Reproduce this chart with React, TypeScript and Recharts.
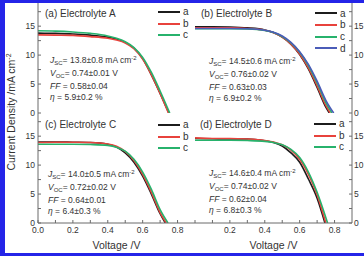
import React from "react";
import { LineChart, Line, XAxis, YAxis } from "recharts";

// J-V curves, [voltage V, current density mA cm-2]
const aBlack = [[0, 13.8], [0.1, 13.75], [0.2, 13.65], [0.3, 13.45], [0.4, 13.1], [0.45, 12.8], [0.5, 12.2], [0.55, 11.2], [0.6, 9.4], [0.65, 6.6], [0.7, 3.4], [0.75, 0]];
const aRed = [[0, 13.5], [0.1, 13.45], [0.2, 13.4], [0.3, 13.2], [0.4, 12.9], [0.45, 12.6], [0.5, 12.1], [0.55, 11.1], [0.6, 9.3], [0.65, 6.6], [0.7, 3.4], [0.748, 0]];
const aGreen = [[0, 14.2], [0.1, 14.15], [0.2, 14.0], [0.3, 13.75], [0.4, 13.3], [0.45, 12.9], [0.5, 12.3], [0.55, 11.3], [0.6, 9.6], [0.65, 7.0], [0.7, 3.8], [0.755, 0]];

const bBlack = [[0, 14.9], [0.1, 14.9], [0.2, 14.85], [0.3, 14.7], [0.4, 14.35], [0.45, 13.9], [0.5, 13.1], [0.55, 11.9], [0.6, 10.1], [0.65, 7.6], [0.7, 4.4], [0.75, 1.0], [0.77, 0]];
const bRed = [[0, 14.7], [0.1, 14.7], [0.2, 14.7], [0.3, 14.6], [0.4, 14.3], [0.45, 13.85], [0.5, 13.1], [0.55, 11.9], [0.6, 10.2], [0.65, 7.8], [0.7, 4.7], [0.75, 1.3], [0.775, 0]];
const bGreen = [[0, 14.55], [0.1, 14.55], [0.2, 14.55], [0.3, 14.5], [0.4, 14.25], [0.45, 13.9], [0.5, 13.2], [0.55, 12.1], [0.6, 10.5], [0.65, 8.2], [0.7, 5.2], [0.75, 1.8], [0.785, 0]];
const bBlue = [[0, 14.6], [0.1, 14.6], [0.2, 14.6], [0.3, 14.55], [0.4, 14.3], [0.45, 13.95], [0.5, 13.3], [0.55, 12.2], [0.6, 10.6], [0.65, 8.4], [0.7, 5.5], [0.75, 2.2], [0.795, 0]];

const cBlack = [[0, 14.0], [0.1, 14.0], [0.2, 13.95], [0.3, 13.9], [0.4, 13.6], [0.45, 13.1], [0.5, 12.1], [0.55, 10.5], [0.6, 8.1], [0.65, 5.0], [0.7, 1.6], [0.73, 0]];
const cRed = [[0, 13.9], [0.1, 13.95], [0.2, 13.95], [0.3, 13.9], [0.4, 13.65], [0.45, 13.25], [0.5, 12.35], [0.55, 10.8], [0.6, 8.4], [0.65, 5.3], [0.7, 1.8], [0.735, 0]];
const cGreen = [[0, 13.6], [0.1, 13.6], [0.2, 13.6], [0.3, 13.55], [0.4, 13.4], [0.45, 13.1], [0.5, 12.4], [0.55, 11.0], [0.6, 8.8], [0.65, 5.8], [0.7, 2.3], [0.745, 0]];

const dBlack = [[0, 14.6], [0.1, 14.55], [0.2, 14.5], [0.3, 14.5], [0.4, 14.2], [0.45, 13.9], [0.5, 13.3], [0.55, 12.1], [0.6, 10.5], [0.65, 7.6], [0.7, 4.3], [0.745, 0]];
const dRed = [[0, 14.7], [0.1, 14.6], [0.2, 14.6], [0.3, 14.5], [0.4, 14.25], [0.45, 14.0], [0.5, 13.5], [0.55, 12.6], [0.6, 11.0], [0.65, 8.4], [0.7, 4.9], [0.75, 0]];
const dGreen = [[0, 14.3], [0.1, 14.3], [0.2, 14.3], [0.3, 14.25], [0.4, 14.1], [0.45, 13.9], [0.5, 13.5], [0.55, 12.7], [0.6, 11.3], [0.65, 8.8], [0.7, 5.3], [0.76, 0]];

const xTicks = [0, 0.1, 0.2, 0.3, 0.4, 0.5, 0.6, 0.7, 0.8];
const yTicks = [0, 2.5, 5, 7.5, 10, 12.5, 15, 17.5];

const titles = ["(a) Electrolyte A", "(b) Electrolyte B", "(c) Electrolyte C", "(d) Electrolyte D"];
const jsc = ["13.8±0.8", "14.5±0.6", "14.0±0.5", "14.6±0.4"];
const voc = ["0.74±0.01", "0.76±0.02", "0.72±0.02", "0.74±0.02"];
const ff = ["0.58±0.04", "0.63±0.03", "0.64±0.01", "0.62±0.04"];
const eta = ["5.9±0.2", "6.9±0.2", "6.4±0.3", "6.8±0.3"];

const BLACK = "#1c1c1c";
const RED = "#e8423c";
const GREEN = "#27b26c";
const BLUE = "#4b5cb8";
const AXIS = "#6b6b6b";
const TEXT = "#333";

type Series = { name: string; color: string; pts: number[][] };

const toPts = (arr: number[][]) => arr.map(([v, j]) => ({ v, j }));

const panels = [
  {
    series: [{ name: "a", color: BLACK, pts: aBlack }, { name: "b", color: RED, pts: aRed }, { name: "c", color: GREEN, pts: aGreen }],
    px: 38, py: 3, side: "left", bottom: false,
    title: [45, 8], stats: [50, 55], legend: [158, 6],
  },
  {
    series: [{ name: "a", color: BLACK, pts: bBlack }, { name: "b", color: RED, pts: bRed }, { name: "c", color: GREEN, pts: bGreen }, { name: "d", color: BLUE, pts: bBlue }],
    px: 195, py: 3, side: "right", bottom: false,
    title: [201, 8], stats: [209, 56], legend: [315, 7.5],
  },
  {
    series: [{ name: "a", color: BLACK, pts: cBlack }, { name: "b", color: RED, pts: cRed }, { name: "c", color: GREEN, pts: cGreen }],
    px: 38, py: 113, side: "left", bottom: true,
    title: [45, 119], stats: [48, 169], legend: [158, 119],
  },
  {
    series: [{ name: "a", color: BLACK, pts: dBlack }, { name: "b", color: RED, pts: dRed }, { name: "c", color: GREEN, pts: dGreen }],
    px: 195, py: 113, side: "right", bottom: true,
    title: [200, 119], stats: [209, 168], legend: [314, 118],
  },
];

const PW = 157;
const PH = 110;
const M = 8;
const YW = 28;
const XH = 18;

function Panel({ idx }: { idx: number }) {
  const p = panels[idx];
  const left = p.side === "left";
  const offL = M + (left ? YW : 0);
  const width = M + YW + PW + M;
  const height = M + PH + M + (p.bottom ? XH : 0);
  const fmtX = (v: number) => {
    const t = Math.round(v * 10);
    if (t % 2 !== 0) return "";
    if (!left && t === 0) return "";
    return v.toFixed(1);
  };
  const fmtY = (v: number) => (v % 5 === 0 ? String(v) : "");
  const tickStyle = { fontSize: 8.5, fill: TEXT };

  return (
    <>
      <div style={{ position: "absolute", left: p.px - offL, top: p.py - M }}>
        <LineChart width={width} height={height} margin={{ top: M, right: M, bottom: M, left: M }}>
          <XAxis
            xAxisId="x"
            dataKey="v"
            type="number"
            domain={[0, 0.9]}
            allowDataOverflow
            ticks={xTicks}
            interval={0}
            tickFormatter={fmtX}
            tick={p.bottom ? tickStyle : false}
            tickSize={-3}
            tickMargin={7}
            height={p.bottom ? XH : 0}
            stroke={AXIS}
          />
          <XAxis
            xAxisId="top"
            orientation="top"
            type="number"
            domain={[0, 0.9]}
            allowDataOverflow
            ticks={xTicks}
            interval={0}
            tick={false}
            tickSize={-3}
            height={0}
            stroke={AXIS}
          />
          <YAxis
            yAxisId="y"
            orientation={left ? "left" : "right"}
            type="number"
            domain={[0, 19]}
            allowDataOverflow
            ticks={yTicks}
            interval={0}
            tickFormatter={fmtY}
            tick={tickStyle}
            tickSize={-3}
            tickMargin={left ? 6 : 5}
            width={YW}
            stroke={AXIS}
          />
          <YAxis
            yAxisId="other"
            orientation={left ? "right" : "left"}
            type="number"
            domain={[0, 19]}
            allowDataOverflow
            ticks={yTicks}
            interval={0}
            tick={false}
            tickSize={-3}
            width={0}
            stroke={AXIS}
          />
          {p.series.map((s: Series) => (
            <Line
              key={s.name}
              xAxisId="x"
              yAxisId="y"
              data={toPts(s.pts)}
              dataKey="j"
              name={s.name}
              type="monotone"
              stroke={s.color}
              strokeWidth={1.6}
              dot={false}
              isAnimationActive={false}
            />
          ))}
        </LineChart>
      </div>

      <div style={{ position: "absolute", left: p.title[0], top: p.title[1], fontSize: 10, lineHeight: "12px", color: TEXT, whiteSpace: "nowrap" }}>
        {titles[idx]}
      </div>

      <div style={{ position: "absolute", left: p.stats[0], top: p.stats[1], fontSize: 8.5, lineHeight: "11.8px", color: TEXT, whiteSpace: "nowrap" }}>
        <div>
          <i>J</i>
          <span style={{ fontSize: 6, position: "relative", top: 2 }}>SC</span>= {jsc[idx]} mA cm
          <span style={{ fontSize: 6, position: "relative", top: -3 }}>-2</span>
        </div>
        <div>
          <i>V</i>
          <span style={{ fontSize: 6, position: "relative", top: 2 }}>OC</span>= {voc[idx]} V
        </div>
        <div>
          <i>FF</i> = {ff[idx]}
        </div>
        <div>
          <i>η</i> = {eta[idx]} %
        </div>
      </div>

      <div style={{ position: "absolute", left: p.legend[0], top: p.legend[1], fontSize: 10, lineHeight: "11.7px", color: TEXT }}>
        {p.series.map((s: Series) => (
          <div key={s.name} style={{ display: "flex", alignItems: "center", height: 11.7 }}>
            <span style={{ display: "inline-block", width: 22, height: 2, background: s.color }} />
            <span style={{ marginLeft: 3 }}>{s.name}</span>
          </div>
        ))}
      </div>
    </>
  );
}

export default function App() {
  return (
    <div
      style={{
        position: "fixed",
        left: 0,
        top: 0,
        width: 364,
        height: 256,
        background: "#2424e8",
        overflow: "hidden",
        fontFamily: "'Liberation Sans', Arial, sans-serif",
      }}
    >
      <div style={{ position: "absolute", left: 5, top: 3, right: 0, bottom: 3, background: "#fff" }} />
      {panels.map((_, i) => (
        <Panel key={i} idx={i} />
      ))}
      <div
        style={{
          position: "absolute",
          left: 11,
          top: 112,
          transform: "translate(-50%, -50%) rotate(-90deg)",
          fontSize: 10.5,
          color: TEXT,
          whiteSpace: "nowrap",
        }}
      >
        Current Density /mA cm<span style={{ fontSize: 7, position: "relative", top: -4 }}>-2</span>
      </div>
      <div style={{ position: "absolute", left: 116.5, top: 245, transform: "translate(-50%, -50%)", fontSize: 10.5, color: TEXT, whiteSpace: "nowrap" }}>
        Voltage /V
      </div>
      <div style={{ position: "absolute", left: 273.5, top: 245, transform: "translate(-50%, -50%)", fontSize: 10.5, color: TEXT, whiteSpace: "nowrap" }}>
        Voltage /V
      </div>
    </div>
  );
}
